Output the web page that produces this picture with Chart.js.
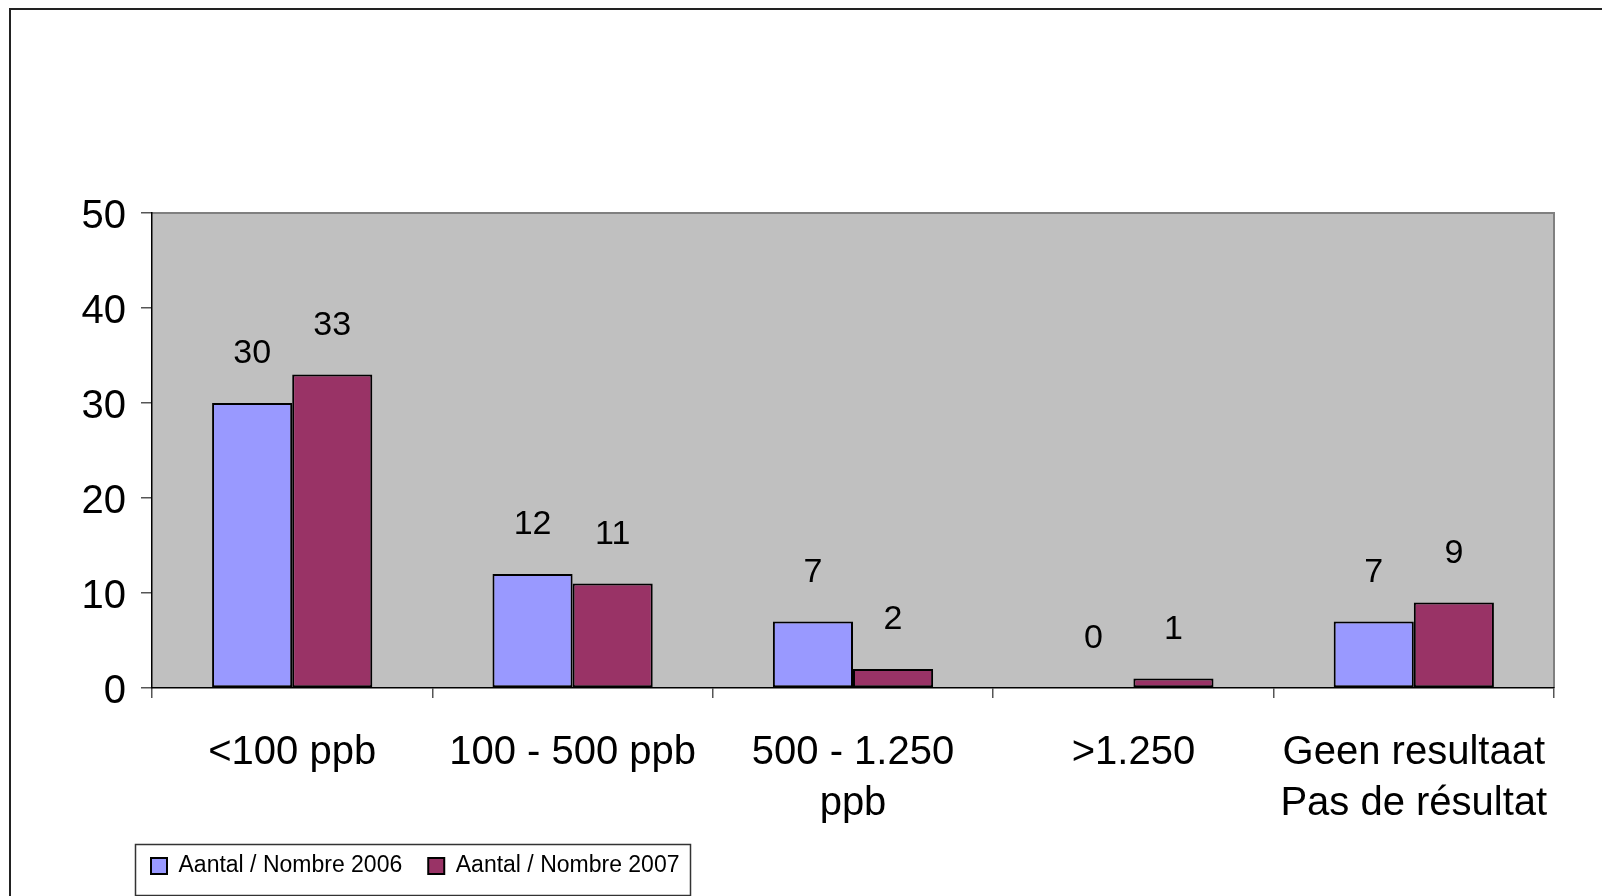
<!DOCTYPE html>
<html><head><meta charset="utf-8">
<script src="https://cdn.jsdelivr.net/npm/chart.js@4.4.1/dist/chart.umd.min.js"></script>
<style>
html,body{margin:0;padding:0;background:#fff;overflow:hidden;}
#wrap{position:relative;width:1602px;height:896px;}
#frame{position:absolute;left:9px;top:8px;right:-10px;bottom:-10px;border-left:2px solid #222;border-top:2px solid #222;pointer-events:none;}
canvas{position:absolute;left:0;top:0;}
</style></head><body>
<div id="wrap"><canvas id="c" width="1602" height="896"></canvas><div id="frame"></div></div>
<script>
const categories = ["<100 ppb", "100 - 500 ppb", ["500 - 1.250", "ppb"], ">1.250", ["Geen resultaat", "Pas de résultat"]];
const seriesNames = ["Aantal / Nombre 2006", "Aantal / Nombre 2007"];
const values2006 = [30, 12, 7, 0, 7];
const values2007 = [33, 11, 2, 1, 9];
const yTickValues = [0, 10, 20, 30, 40, 50];

const FONT = "'Liberation Sans', Arial, sans-serif";

const plotBg = {
  id: 'plotBg',
  beforeDraw(chart) {
    const {ctx, chartArea: a} = chart;
    ctx.save();
    ctx.fillStyle = '#C0C0C0';
    ctx.fillRect(a.left, a.top, a.width, a.height);
    ctx.strokeStyle = '#808080';
    ctx.lineWidth = 2;
    ctx.beginPath();
    ctx.moveTo(a.left, a.top);
    ctx.lineTo(a.right, a.top);
    ctx.lineTo(a.right, a.bottom);
    ctx.stroke();
    ctx.restore();
  }
};

const valueLabels = {
  id: 'valueLabels',
  afterDatasetsDraw(chart) {
    const {ctx} = chart;
    ctx.save();
    ctx.fillStyle = '#000';
    ctx.font = "34px " + FONT;
    ctx.textAlign = 'center';
    ctx.textBaseline = 'middle';
    chart.data.datasets.forEach((ds, di) => {
      const meta = chart.getDatasetMeta(di);
      meta.data.forEach((el, i) => {
        ctx.fillText(String(ds.data[i]), el.x, el.y - 49);
      });
    });
    ctx.restore();
  }
};

// shift the legend so its first item lines up with the y axis
const legendShift = {
  id: 'legendShift',
  afterLayout(chart) {
    const lg = chart.legend;
    if (!lg) return;
    const w = lg.right - lg.left;
    lg.left = chart.chartArea.left - 27;
    lg.right = lg.left + w;
  }
};

const legendFrame = {
  id: 'legendFrame',
  afterDraw(chart) {
    const lg = chart.legend;
    const hb = lg && lg.legendHitBoxes;
    if (!hb || !hb.length) return;
    const {ctx} = chart;
    const first = hb[0], last = hb[hb.length - 1];
    const cy = first.top + first.height / 2;
    const x0 = Math.round(first.left - 16), x1 = Math.round(last.left + last.width + 11);
    ctx.save();
    ctx.strokeStyle = '#333';
    ctx.lineWidth = 1.5;
    ctx.strokeRect(x0 + 0.5, Math.round(cy - 22) + 0.5, x1 - x0, 51);
    ctx.restore();
  }
};

new Chart(document.getElementById('c'), {
  type: 'bar',
  data: {
    labels: categories,
    datasets: [
      {label: seriesNames[0], data: values2006, backgroundColor: '#9999FF', borderColor: '#000', borderWidth: 2, borderSkipped: false,
       categoryPercentage: 2 / 3.5, barPercentage: 1},
      {label: seriesNames[1], data: values2007, backgroundColor: '#993366', borderColor: '#000', borderWidth: 2, borderSkipped: false,
       categoryPercentage: 2 / 3.5, barPercentage: 1}
    ]
  },
  options: {
    responsive: false,
    animation: false,
    events: [],
    layout: {padding: {left: 60, right: 48, top: 213, bottom: 8.5}},
    plugins: {
      tooltip: {enabled: false},
      title: {display: false},
      legend: {
        display: true,
        position: 'bottom',
        align: 'start',
        labels: {
          boxWidth: 16, boxHeight: 16, padding: 26, color: '#000',
          font: {family: FONT, size: 23}
        }
      }
    },
    scales: {
      x: {
        offset: true,
        grid: {display: true, drawOnChartArea: false, drawTicks: true, tickLength: 10, color: '#555', offset: true, lineWidth: 1.5},
        border: {display: true, color: '#000', width: 1.5},
        ticks: {color: '#000', padding: 29, autoSkip: false, maxRotation: 0, minRotation: 0,
                font: {family: FONT, size: 40, lineHeight: 1.28}},
        afterFit(scale) { scale.height = 140.5; }
      },
      y: {
        min: 0, max: 50,
        afterBuildTicks(scale) { scale.ticks = yTickValues.map(v => ({value: v})); },
        grid: {display: true, drawOnChartArea: false, drawTicks: true, tickLength: 11, color: '#555', lineWidth: 1.5},
        border: {display: true, color: '#000', width: 1.5},
        ticks: {color: '#000', padding: 15, labelOffset: 4, font: {family: FONT, size: 40}},
        afterFit(scale) { scale.width = 92; }
      }
    }
  },
  plugins: [plotBg, valueLabels, legendShift, legendFrame]
});
</script>
</body></html>
